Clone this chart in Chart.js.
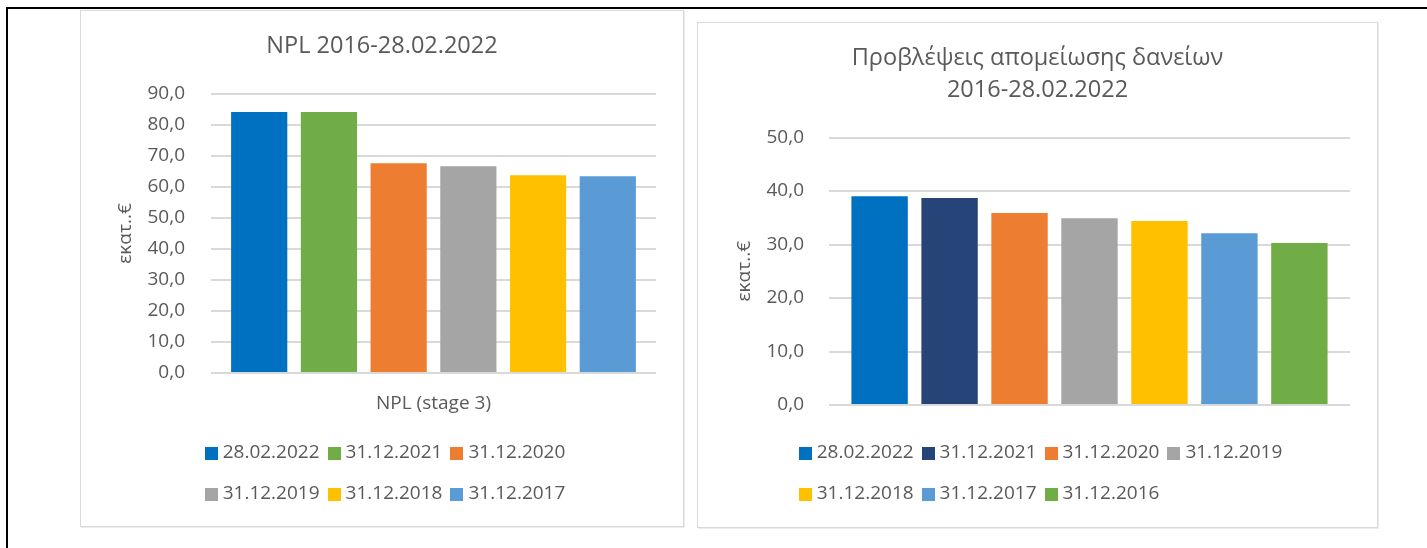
<!DOCTYPE html>
<html>
<head>
<meta charset="utf-8">
<script src="https://cdn.jsdelivr.net/npm/chart.js@4.4.1/dist/chart.umd.min.js"></script>
<style>
  html, body { margin: 0; padding: 0; background: #fff; }
  body { width: 1427px; height: 548px; position: relative; overflow: hidden; }
  #frame { position: absolute; left: 6px; top: 7px; width: 1440px; height: 560px;
           border-top: 2px solid #000; border-left: 2px solid #000; }
  .panel { position: absolute; border: 1px solid #d9d9d9; box-shadow: 1px 1px 0 #ececec; background: #fff; }
  #p1 { left: 80px; top: 10px; width: 602px; height: 515px; }
  #p2 { left: 697px; top: 22px; width: 679px; height: 504px; }
  canvas { display: block; }
</style>
</head>
<body>
<div id="frame"></div>
<div class="panel" id="p1"><canvas id="c1" width="602" height="515"></canvas></div>
<div class="panel" id="p2"><canvas id="c2" width="679" height="504"></canvas></div>
<script>
// ---- data ----
const nplTitle = 'NPL 2016-28.02.2022';
const nplCategories = ['NPL (stage 3)'];
const nplDates = ['28.02.2022', '31.12.2021', '31.12.2020', '31.12.2019', '31.12.2018', '31.12.2017'];
const nplValues = [84.2, 84.2, 67.7, 66.7, 63.8, 63.5];
const nplColors = ['#0070C0', '#70AD47', '#ED7D31', '#A5A5A5', '#FFC000', '#5B9BD5'];
const nplTicks = { min: 0, max: 90, step: 10 };

const provTitle = ['Προβλέψεις απομείωσης δανείων', '2016-28.02.2022'];
const provCategories = [''];
const provDates = ['28.02.2022', '31.12.2021', '31.12.2020', '31.12.2019', '31.12.2018', '31.12.2017', '31.12.2016'];
const provValues = [39.0, 38.7, 35.9, 34.9, 34.4, 32.1, 30.3];
const provColors = ['#0070C0', '#264478', '#ED7D31', '#A5A5A5', '#FFC000', '#5B9BD5', '#70AD47'];
const provTicks = { min: 0, max: 50, step: 10 };

const yAxisTitle = 'εκατ..€';

// ---- style ----
const FONT = "'Open Sans', 'Noto Sans', sans-serif";
const TEXT = '#595959';
const GRID = '#d9d9d9';

const gridLegend = {
  id: 'gridLegend',
  afterDraw(chart, args, o) {
    const ctx = chart.ctx;
    const ds = chart.data.datasets;
    ctx.save();
    ctx.font = o.size + 'px ' + FONT;
    const maxW = Math.max(...ds.map(d => ctx.measureText(d.label).width));
    const pitch = o.box + o.gap + maxW + o.spacing;
    const blockW = o.columns * pitch - o.spacing;
    const x0 = (chart.width - blockW) / 2 + o.offsetX;
    ds.forEach((d, i) => {
      const r = Math.floor(i / o.columns), c = i % o.columns;
      const x = x0 + c * pitch;
      const y = o.top + r * o.rowGap;
      ctx.fillStyle = d.backgroundColor;
      ctx.fillRect(Math.round(x), Math.round(y - o.box / 2), o.box, o.box);
      ctx.fillStyle = TEXT;
      ctx.textBaseline = 'middle';
      ctx.textAlign = 'left';
      ctx.fillText(d.label, x + o.box + o.gap, y);
    });
    ctx.restore();
  }
};

function fmt(v) { return Number(v).toFixed(1).replace('.', ','); }

function makeChart(id, cfg) {
  const datasets = cfg.dates.map((d, i) => ({
    label: d,
    data: [cfg.values[i]],
    backgroundColor: cfg.colors[i],
    borderWidth: 0,
    categoryPercentage: 0.94,
    barPercentage: 0.806
  }));
  return new Chart(document.getElementById(id), {
    type: 'bar',
    data: { labels: cfg.categories, datasets },
    plugins: [gridLegend],
    options: {
      responsive: false,
      animation: false,
      devicePixelRatio: 1,
      layout: { padding: { left: 27, right: 27, top: 0, bottom: 0 } },
      plugins: {
        legend: { display: false },
        tooltip: { enabled: false },
        title: {
          display: true,
          text: cfg.title,
          color: TEXT,
          font: { family: FONT, size: 23.5, weight: 'normal', lineHeight: cfg.titleLH },
          padding: { top: cfg.titlePadTop, bottom: cfg.titlePadBottom }
        },
        gridLegend: cfg.legend
      },
      scales: {
        x: {
          grid: { display: false, drawTicks: false },
          border: { display: false },
          ticks: { color: TEXT, font: { family: FONT, size: 19 }, padding: 19.6 },
          afterFit(s) { s.height = cfg.xHeight; }
        },
        y: {
          min: cfg.ticks.min, max: cfg.ticks.max,
          grid: { color: GRID, lineWidth: 2, drawTicks: false },
          border: { display: false },
          ticks: { stepSize: cfg.ticks.step, color: TEXT, font: { family: FONT, size: 19 },
                   padding: cfg.yTickPad, callback: fmt },
          title: { display: true, text: yAxisTitle, color: TEXT,
                   font: { family: FONT, size: 19 }, padding: { top: cfg.yTitlePad, bottom: 0 } },
          afterFit(s) { s.width = cfg.yWidth; }
        }
      }
    }
  });
}

makeChart('c1', {
  title: nplTitle, categories: nplCategories, dates: nplDates, values: nplValues,
  colors: nplColors, ticks: nplTicks,
  titleLH: 1.2, titlePadTop: 21.4, titlePadBottom: 33.4,
  xHeight: 153, yWidth: 103, yTickPad: 26, yTitlePad: 6.6,
  legend: { size: 19, box: 13, gap: 5, spacing: 8, columns: 3, top: 442, rowGap: 41, offsetX: 3 }
});

makeChart('c2', {
  title: provTitle, categories: provCategories, dates: provDates, values: provValues,
  colors: provColors, ticks: provTicks,
  titleLH: 32 / 23.5, titlePadTop: 19.8, titlePadBottom: 30.7,
  xHeight: 122, yWidth: 104, yTickPad: 25, yTitlePad: 8.6,
  legend: { size: 19, box: 13, gap: 5, spacing: 8, columns: 4, top: 430, rowGap: 41, offsetX: 3 }
});
</script>
</body>
</html>
